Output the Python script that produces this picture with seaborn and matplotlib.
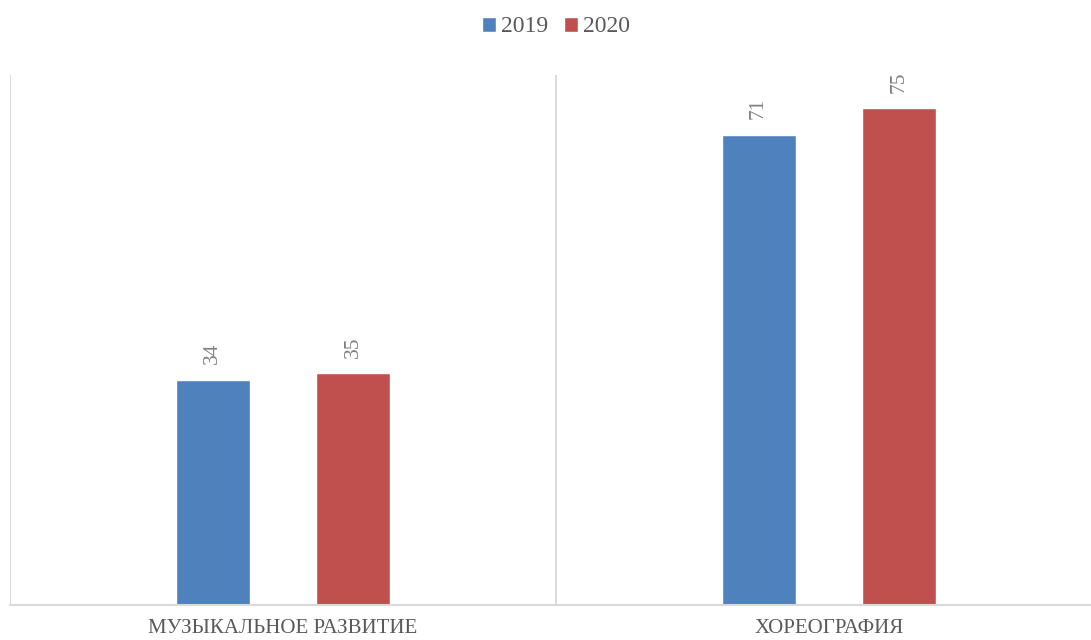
import matplotlib
matplotlib.use("Agg")
import matplotlib.pyplot as plt
import seaborn as sns
import pandas as pd

categories = ["МУЗЫКАЛЬНОЕ РАЗВИТИЕ", "ХОРЕОГРАФИЯ"]
series = ["2019", "2020"]
values_2019 = [34, 71]
values_2020 = [35, 75]

df = pd.DataFrame({
    "category": categories * 2,
    "year": [series[0]] * 2 + [series[1]] * 2,
    "value": values_2019 + values_2020,
})

sns.set_theme(style="white")
plt.rcParams["font.family"] = ["Liberation Serif", "DejaVu Serif"]

fig = plt.figure(figsize=(10.91, 6.40), dpi=100)
ax = fig.add_axes([10 / 1091, 35 / 640, 1092 / 1091, 530 / 640])

palette = {"2019": "#4f81bd", "2020": "#c0504d"}
sns.barplot(data=df, x="category", y="value", hue="year", order=categories,
            hue_order=series, palette=palette, width=0.516, gap=0.475,
            saturation=1, ax=ax, legend=True)

ax.set_xlim(-0.5, 1.5)
ax.set_ylim(0, 80)
for xv in [-0.5, 0.5, 1.5]:
    ax.axvline(xv, color="#d9d9d9", lw=1.3, zorder=0)

for side in ["top", "right", "left"]:
    ax.spines[side].set_visible(False)
ax.spines["bottom"].set_color("#d9d9d9")
ax.spines["bottom"].set_linewidth(1.5)
ax.set_yticks([])
ax.set_xlabel("")
ax.set_ylabel("")
ax.tick_params(axis="x", length=0, pad=10)
ax.set_xticks(range(len(categories)))
ax.set_xticklabels(categories, fontsize=15, color="#595959")

for cont in ax.containers:
    ax.bar_label(cont, rotation=90, padding=11, fontsize=15.5, color="#7f7f7f")

handles, labels = ax.get_legend_handles_labels()
ax.legend(handles, labels, loc="center", bbox_to_anchor=(0.5, (640 - 27 - 35) / 530),
          ncol=2, frameon=False, fontsize=17, handlelength=0.6, handleheight=0.6,
          handletextpad=0.2, columnspacing=0.7, labelcolor="#595959")

fig.savefig("out.png", dpi=100)
